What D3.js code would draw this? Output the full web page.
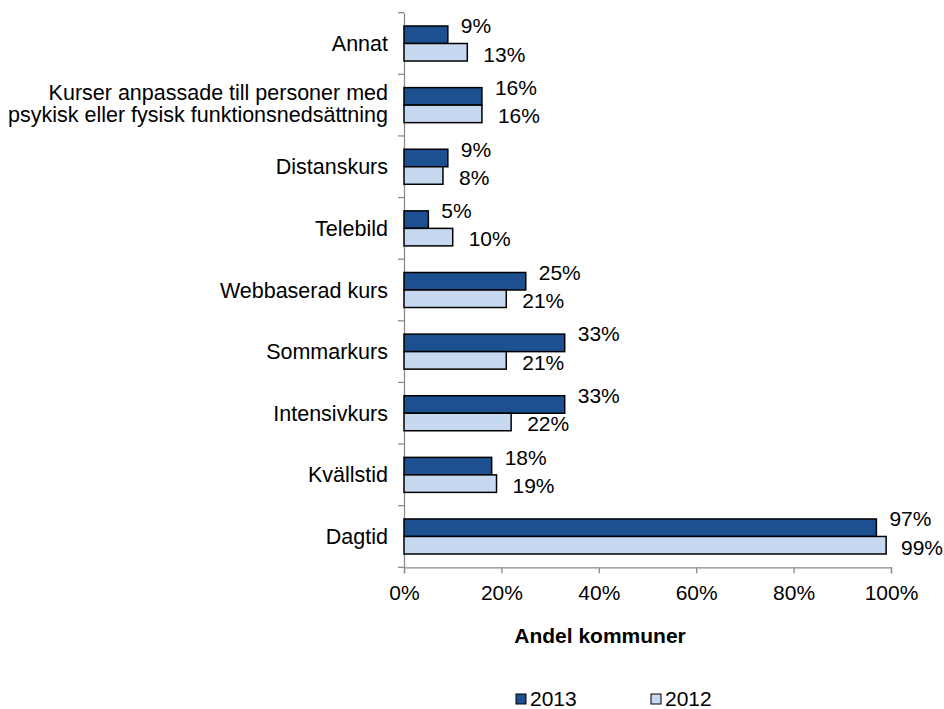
<!DOCTYPE html>
<html>
<head>
<meta charset="utf-8">
<script src="https://cdn.jsdelivr.net/npm/d3@7/dist/d3.min.js"></script>
<style>
  body { margin: 0; background: #fff; }
  text { font-family: "Liberation Sans", Arial, sans-serif; fill: #000; }
</style>
</head>
<body>
<div id="chart"></div>
<script>
// categories top to bottom, shares as fractions
const categories = [
  ['Annat'],
  ['Kurser anpassade till personer med', 'psykisk eller fysisk funktionsnedsättning'],
  ['Distanskurs'],
  ['Telebild'],
  ['Webbaserad kurs'],
  ['Sommarkurs'],
  ['Intensivkurs'],
  ['Kvällstid'],
  ['Dagtid']
];
const years = ['2013', '2012'];
const values2013 = [0.09, 0.16, 0.09, 0.05, 0.25, 0.33, 0.33, 0.18, 0.97];
const values2012 = [0.13, 0.16, 0.08, 0.10, 0.21, 0.21, 0.22, 0.19, 0.99];
const xTicks = [0, 0.2, 0.4, 0.6, 0.8, 1];
const axisTitle = 'Andel kommuner';

const colors = { '2013': '#1d5090', '2012': '#c6d9f1' };
const w = 944;
const h = 709;
const fs = 21;
const rightEdge = 943; // labels are kept inside the picture

const rows = categories.map(function (c, i) {
  return { key: c.join(' '), lines: c, '2013': values2013[i], '2012': values2012[i] };
});

const svg = d3.select('#chart').
append('svg').
attr('width', w).
attr('height', h);

const xScale = d3.scaleLinear().
domain([0, 1]).
range([404, 891]);

const yScale = d3.scaleBand().
domain(rows.map(d => d.key)).
range([12.7, 567.3]);

const subScale = d3.scaleBand().
domain(years).
range([0, yScale.bandwidth()]).
paddingOuter(0.76);

// x axis
const xAxis = d3.axisBottom(xScale).
tickValues(xTicks).
tickSize(6).
tickPadding(12).
tickFormat(d3.format('.0%'));

const gx = svg.append('g').
attr('transform', 'translate(0,' + yScale.range()[1] + ')').
call(xAxis);
gx.selectAll('path, line').attr('stroke', '#8c8c8c').attr('stroke-width', 1.3);
gx.selectAll('text').
style('font-size', fs + 'px').
style('font-family', '"Liberation Sans", Arial, sans-serif').
attr('fill', '#000');

// y axis: labels centred on bands, ticks between categories
const yAxis = d3.axisLeft(yScale).
tickSize(0).
tickPadding(16).
tickFormat('');

const gy = svg.append('g').
attr('transform', 'translate(' + xScale(0) + ',0)').
call(yAxis);
gy.select('.domain').attr('stroke', '#8c8c8c').attr('stroke-width', 1.3);

gy.selectAll('.tick text').each(function (key) {
  const row = rows.find(r => r.key === key);
  const t = d3.select(this).
  style('font-size', '21.5px').
  style('font-family', '"Liberation Sans", Arial, sans-serif').
  attr('fill', '#000').
  attr('dy', null);
  const n = row.lines.length;
  row.lines.forEach(function (line, i) {
    t.append('tspan').
    attr('x', -16).
    attr('dy', i === 0 ? (0.35 - (n - 1) * 0.6) + 'em' : '1.02em').
    text(line);
  });
});

const bounds = yScale.domain().map(k => yScale(k)).concat([yScale.range()[1]]);
gy.selectAll('.bound').
data(bounds).
enter().
append('line').
attr('class', 'bound').
attr('x1', -6).
attr('x2', 0).
attr('y1', d => d).
attr('y2', d => d).
attr('stroke', '#8c8c8c').
attr('stroke-width', 1.3);

// bars
const groups = svg.append('g').
selectAll('g').
data(rows).
enter().
append('g').
attr('transform', d => 'translate(0,' + yScale(d.key) + ')');

groups.selectAll('rect').
data(d => years.map(y => ({ year: y, value: d[y] }))).
enter().
append('rect').
attr('x', xScale(0)).
attr('y', d => subScale(d.year)).
attr('width', d => xScale(d.value) - xScale(0)).
attr('height', subScale.bandwidth()).
attr('fill', d => colors[d.year]).
attr('stroke', '#000').
attr('stroke-width', 1.5);

// value labels: 2013 level with the top of its bar, 2012 beside its bar
groups.selectAll('text').
data(d => years.map(y => ({ year: y, value: d[y] }))).
enter().
append('text').
text(d => Math.round(d.value * 100) + '%').
style('font-size', fs + 'px').
attr('x', function (d) {
  const tw = this.getComputedTextLength();
  const x = xScale(d.value) + (d.year === '2013' ? 13 : 16);
  return Math.min(x, rightEdge - tw);
}).
attr('y', d => d.year === '2013' ?
subScale(d.year) :
subScale(d.year) + subScale.bandwidth() / 2 + 2).
attr('dy', '0.35em');

// axis title
svg.append('text').
attr('x', 600).
attr('y', 643).
attr('text-anchor', 'middle').
style('font-size', fs + 'px').
style('font-weight', 'bold').
text(axisTitle);

// legend
const legend = svg.append('g').
selectAll('g').
data(years).
enter().
append('g').
attr('transform', (d, i) => 'translate(' + (516 + i * 135) + ',694)');

legend.append('rect').
attr('width', 10).
attr('height', 10).
attr('fill', d => colors[d]).
attr('stroke', '#000').
attr('stroke-width', 1);

legend.append('text').
attr('x', 14).
attr('y', 5).
attr('dy', '0.35em').
style('font-size', fs + 'px').
text(d => d);
</script>
</body>
</html>
